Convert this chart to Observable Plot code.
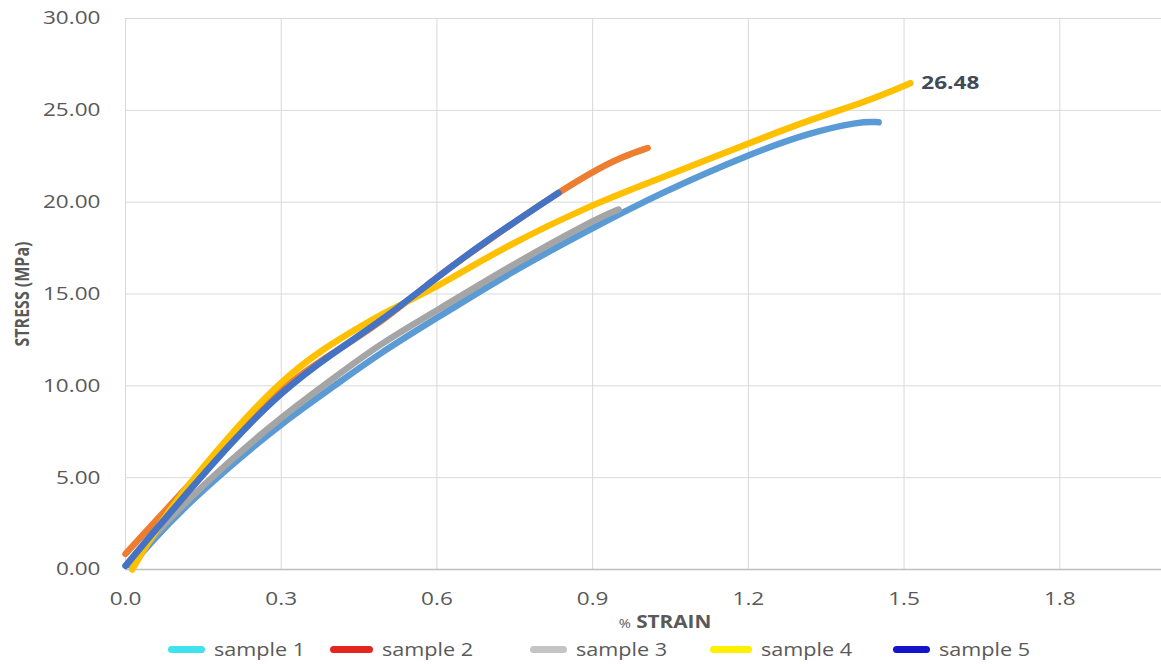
<!DOCTYPE html>
<html><head><meta charset="utf-8">
<script src="https://cdn.jsdelivr.net/npm/d3@7"></script>
<script src="https://cdn.jsdelivr.net/npm/@observablehq/plot@0.6"></script>
<style>
body{margin:0;background:#fff;font-family:"Open Sans",sans-serif;}
#wrap{position:relative;width:1161px;height:664px;overflow:hidden;background:#fff}
#xtitle{position:absolute;left:665px;top:610px;transform:translateX(-50%) scaleX(1.22);color:#595959;font-weight:700;font-size:17px;white-space:nowrap}
#xtitle .pct{font-weight:400;font-size:12px}
.lg{position:absolute;top:636px;height:26px;display:flex;align-items:center;white-space:nowrap}
.lg .sw{display:inline-block;height:7px;border-radius:4px}
.lg .tx{display:inline-block;font-size:18px;color:#595959;transform:scaleX(1.2);transform-origin:left center;margin-left:9px}
</style></head><body>
<div id="wrap"><div id="chart"></div><div id="xtitle"><span class="pct">%</span> STRAIN</div></div>
<script>
// ---- data ----
const seriesNames = ["sample 1","sample 2","sample 3","sample 4","sample 5"];
const lineColors = ["#5b9bd5","#ed7d31","#a5a5a5","#ffc000","#4472c4"];
const legendColors = ["#3fe3ee","#e3261f","#c4c4c4","#fff000","#1414c8"];

const strain1 = [0.01,0.05,0.106,0.2,0.3,0.4,0.491,0.6,0.749,0.9,1.031,1.2,1.32,1.416,1.451];
const stress1 = [0.2,1.5,3.2,5.6,7.95,9.95,11.8,13.7,16.3,18.6,20.5,22.6,23.8,24.4,24.35];

const strain2 = [0,0.05,0.106,0.2,0.3,0.4,0.5,0.6,0.7,0.834,0.915,0.96,1.006];
const stress2 = [0.85,2.4,4.1,7.0,9.95,11.8,13.6,15.95,17.95,20.55,21.9,22.5,22.95];

const strain3 = [0.01,0.05,0.106,0.2,0.3,0.4,0.491,0.6,0.749,0.9,0.95];
const stress3 = [0.3,1.7,3.4,5.9,8.3,10.4,12.3,14.1,16.65,19.0,19.6];

const strain4 = [0.013,0.05,0.106,0.2,0.3,0.38,0.44,0.491,0.6,0.718,0.9,1.031,1.2,1.32,1.43,1.512];
const stress4 = [0,1.8,4.1,7.3,10.3,12.0,13.0,13.9,15.35,17.4,19.9,21.3,23.2,24.5,25.5,26.48];

const strain5 = [0,0.05,0.106,0.2,0.3,0.4,0.491,0.6,0.687,0.834];
const stress5 = [0.2,1.9,3.75,6.8,9.7,11.8,13.5,15.9,17.75,20.5];

const xTicks = [0,0.3,0.6,0.9,1.2,1.5,1.8];
const yTicks = [0,5,10,15,20,25,30];
const peakLabel = "26.48";

const strains = [strain1,strain2,strain3,strain4,strain5];
const stresses = [stress1,stress2,stress3,stress4,stress5];
const series = seriesNames.map((name,i)=>strains[i].map((x,j)=>({name, strain:x, stress:stresses[i][j]})));
const peak = [series[3][series[3].length-1]];

const lines = series.map((d,i)=>Plot.line(d,{x:"strain",y:"stress",stroke:lineColors[i],strokeWidth:6.5,curve:"basis",strokeLinecap:"round",strokeLinejoin:"round"}));

const plot = Plot.plot({
  width:1161, height:612,
  marginLeft:125, marginRight:0, marginTop:18, marginBottom:43,
  style:{fontFamily:"'Open Sans',sans-serif", fontSize:"18.5px", color:"#595959", background:"#fff"},
  x:{domain:[0,1.996]},
  y:{domain:[0,30]},
  marks:[
    Plot.gridY(yTicks.filter(v=>v>0),{stroke:"#d9d9d9",strokeOpacity:1,strokeWidth:1}),
    Plot.gridX(xTicks,{stroke:"#d9d9d9",strokeOpacity:1,strokeWidth:1}),
    Plot.ruleY([0],{stroke:"#bfbfbf",strokeWidth:1.5}),
    Plot.axisX({ticks:xTicks,tickFormat:d3.format(".1f"),tickSize:0,tickPadding:22,label:null,fill:"#595959"}),
    Plot.axisY({ticks:yTicks,tickFormat:d3.format(".2f"),tickSize:0,tickPadding:25,label:null,fill:"#595959"}),
    ...lines,
    Plot.text(peak,{x:"strain",y:"stress",text:()=>peakLabel,textAnchor:"start",dx:11,dy:0,fill:"#404b5a",fontWeight:"bold",fontSize:18.5})
  ]
});

// horizontal stretch of the texts, as in the reference
const S = 1.22;
d3.select(plot).selectAll("text").each(function(){
  const t = this;
  let tr = t.getAttribute("transform");
  if (!tr) {
    const x = t.getAttribute("x")||0, y = t.getAttribute("y")||0;
    t.removeAttribute("x"); t.removeAttribute("y");
    tr = `translate(${x},${y})`;
  }
  t.setAttribute("transform", tr + ` scale(${S},1)`);
});
// y axis title
d3.select(plot).append("text")
  .attr("transform","translate(24,294) rotate(-90) scale(1,1.2)")
  .attr("text-anchor","middle").attr("dominant-baseline","middle")
  .attr("fill","#595959").attr("font-weight","700").attr("font-size","16px")
  .attr("font-family","'Open Sans',sans-serif")
  .text("STRESS (MPa)");

document.getElementById("chart").appendChild(plot);

// legend
const legendLeft = [168,330,530,710,893];
const swatchW = [37,43,37,42,37];
const wrap = document.getElementById("wrap");
seriesNames.forEach((n,i)=>{
  const it = document.createElement("div");
  it.className="lg"; it.style.left = legendLeft[i]+"px";
  it.innerHTML = `<span class="sw" style="width:${swatchW[i]}px;background:${legendColors[i]}"></span><span class="tx">${n}</span>`;
  wrap.appendChild(it);
});
</script></body></html>
